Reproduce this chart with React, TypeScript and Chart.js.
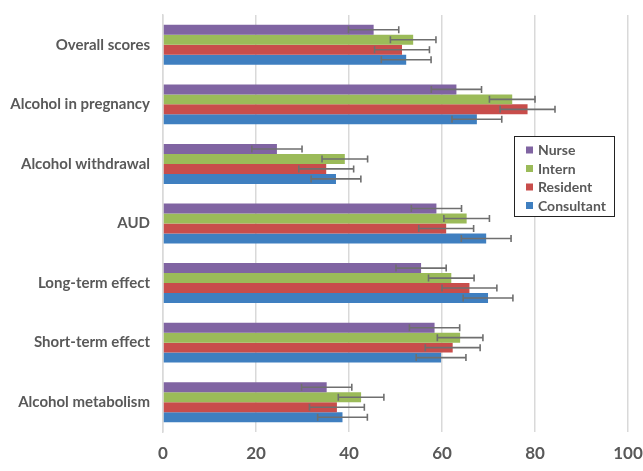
import React, { useEffect, useRef } from "react";
import { Chart, registerables } from "chart.js";

Chart.register(...registerables);

const categories = [
  "Overall scores",
  "Alcohol in pregnancy",
  "Alcohol withdrawal",
  "AUD",
  "Long-term effect",
  "Short-term effect",
  "Alcohol metabolism",
];
const seriesNames = ["Nurse", "Intern", "Resident", "Consultant"];
const nurse = [45.3, 63.1, 24.5, 58.8, 55.5, 58.4, 35.2];
const intern = [53.8, 75.1, 39.1, 65.3, 62.0, 63.9, 42.6];
const resident = [51.4, 78.4, 35.1, 60.9, 65.9, 62.3, 37.4];
const consultant = [52.3, 67.5, 37.2, 69.5, 69.9, 59.8, 38.6];
const nurseErr = [5.4, 5.4, 5.4, 5.4, 5.4, 5.4, 5.4];
const internErr = [4.9, 4.9, 4.9, 4.9, 4.9, 4.9, 4.9];
const residentErr = [5.9, 5.9, 5.9, 5.9, 5.9, 5.9, 5.9];
const consultantErr = [5.35, 5.35, 5.35, 5.35, 5.35, 5.35, 5.35];
const xTicks = [0, 20, 40, 60, 80, 100];

const colors = ["#8064A2", "#9BBB59", "#C84D4B", "#3F7FC0"];
const FONT = "Lato, 'Open Sans', sans-serif";
const TEXT = "#595959";

const errorBarPlugin = {
  id: "errorBars",
  afterDatasetsDraw(chart: any) {
    const ctx = chart.ctx;
    const xs = chart.scales.x;
    ctx.save();
    ctx.strokeStyle = "#6f6f6f";
    ctx.lineWidth = 1.6;
    chart.data.datasets.forEach((ds: any, i: number) => {
      const meta = chart.getDatasetMeta(i);
      meta.data.forEach((bar: any, j: number) => {
        const v = ds.data[j];
        const e = ds.errors[j];
        const x1 = xs.getPixelForValue(v - e);
        const x2 = xs.getPixelForValue(v + e);
        const y = bar.y;
        ctx.beginPath();
        ctx.moveTo(x1, y);
        ctx.lineTo(x2, y);
        ctx.moveTo(x1, y - 3.5);
        ctx.lineTo(x1, y + 3.5);
        ctx.moveTo(x2, y - 3.5);
        ctx.lineTo(x2, y + 3.5);
        ctx.stroke();
      });
    });
    ctx.restore();
  },
};

const legendPlugin = {
  id: "boxLegend",
  afterDraw(chart: any) {
    const ctx = chart.ctx;
    const left = 514.5;
    const top = 136.5;
    const w = 100;
    const h = 80;
    ctx.save();
    ctx.fillStyle = "#ffffff";
    ctx.fillRect(left, top, w, h);
    ctx.strokeStyle = "#222222";
    ctx.lineWidth = 1;
    ctx.strokeRect(left, top, w, h);
    ctx.font = `bold 14px ${FONT}`;
    ctx.textBaseline = "middle";
    chart.data.datasets.forEach((ds: any, i: number) => {
      const cy = 150 + i * 18.5;
      ctx.fillStyle = ds.backgroundColor;
      ctx.fillRect(526, cy - 3.5, 7, 7);
      ctx.fillStyle = TEXT;
      ctx.fillText(ds.label, 538, cy + 0.5);
    });
    ctx.restore();
  },
};

export default function App() {
  const ref = useRef<HTMLCanvasElement | null>(null);
  useEffect(() => {
    if (!ref.current) return;
    const values = [nurse, intern, resident, consultant];
    const errs = [nurseErr, internErr, residentErr, consultantErr];
    const chart = new Chart(ref.current, {
      type: "bar",
      data: {
        labels: categories,
        datasets: seriesNames.map((name, i) => ({
          label: name,
          data: values[i],
          errors: errs[i],
          backgroundColor: colors[i],
          borderWidth: 0,
          categoryPercentage: 0.67,
          barPercentage: 1,
        })) as any,
      },
      options: {
        indexAxis: "y",
        animation: false,
        responsive: false,
        maintainAspectRatio: false,
        layout: { padding: { top: 15, right: 15, left: 0, bottom: 0 } },
        plugins: {
          legend: { display: false },
          tooltip: { enabled: false },
        },
        scales: {
          x: {
            min: 0,
            max: 100,
            afterBuildTicks: (s: any) => {
              s.ticks = xTicks.map((v) => ({ value: v }));
            },
            afterFit: (s: any) => {
              s.height = 39;
              s.paddingLeft = 0;
              s.paddingRight = 0;
            },
            grid: { color: "#d9d9d9", lineWidth: 1.5, drawTicks: false },
            border: { display: false },
            ticks: {
              padding: 11,
              color: TEXT,
              font: { family: FONT, size: 17, weight: "bold" },
            },
          },
          y: {
            afterFit: (s: any) => {
              s.width = 163;
              s.paddingTop = 0;
              s.paddingBottom = 0;
            },
            grid: { display: false, drawTicks: false },
            border: { display: true, color: "#d9d9d9", width: 1.5 },
            ticks: {
              padding: 13,
              color: TEXT,
              font: { family: FONT, size: 15, weight: "bold" },
            },
          },
        },
      } as any,
      plugins: [errorBarPlugin, legendPlugin],
    });
    return () => chart.destroy();
  }, []);
  return (
    <div style={{ position: "absolute", left: 0, top: 0, width: 643, height: 471, background: "#fff" }}>
      <canvas ref={ref} width={643} height={471} style={{ width: 643, height: 471 }} />
    </div>
  );
}
